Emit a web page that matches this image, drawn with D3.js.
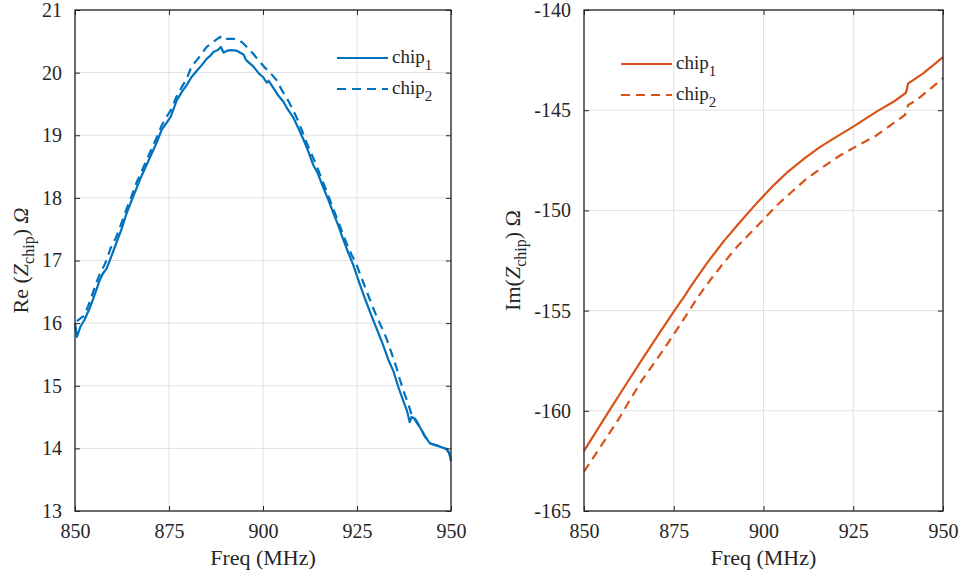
<!DOCTYPE html>
<html>
<head>
<meta charset="utf-8">
<script src="https://cdn.jsdelivr.net/npm/d3@7"></script>
<style>
  body { margin: 0; background: #fff; }
  svg text { font-family: "Liberation Serif", "Times New Roman", serif; fill: #262626; }
</style>
</head>
<body>
<div id="chart"></div>
<script>
// Real part (left panel)
var reFreq1 = [850, 850.5, 851.5, 852.5, 854, 855.5, 856.6, 857.5, 858.4, 860, 861, 862.5, 863.7, 865, 866.4, 867.7, 869, 870.5, 871.7, 873, 874.4, 875.5, 877, 878.5, 879.7, 881, 882.4, 883.7, 885, 886, 886.8, 888, 888.8, 889.5, 890.5, 891.5, 893, 894.8, 895.5, 897.4, 899, 900, 901, 901.5, 902.7, 904, 905.4, 906.5, 908, 909.5, 910.7, 912, 913.4, 914.5, 916, 917.3, 918.7, 920, 921.3, 922.7, 924, 925.3, 926.7, 928, 929.3, 930.7, 932, 933.3, 934.7, 936, 937.3, 938.3, 939, 939.5, 940.2, 941, 941.8, 943, 944.4, 946.5, 948.8, 949.5, 950];
var reChip1 = [16.00, 15.78, 15.95, 16.05, 16.25, 16.50, 16.69, 16.80, 16.87, 17.12, 17.28, 17.52, 17.75, 17.95, 18.16, 18.35, 18.52, 18.72, 18.88, 19.08, 19.20, 19.30, 19.55, 19.70, 19.80, 19.93, 20.03, 20.12, 20.22, 20.27, 20.33, 20.36, 20.41, 20.32, 20.35, 20.36, 20.35, 20.29, 20.20, 20.10, 19.98, 19.93, 19.84, 19.87, 19.76, 19.64, 19.54, 19.42, 19.29, 19.10, 18.94, 18.75, 18.52, 18.40, 18.17, 17.98, 17.76, 17.56, 17.34, 17.12, 16.93, 16.70, 16.46, 16.25, 16.05, 15.84, 15.64, 15.42, 15.23, 14.98, 14.76, 14.60, 14.42, 14.50, 14.48, 14.40, 14.33, 14.20, 14.08, 14.04, 13.99, 13.93, 13.80];
var reFreq2 = [850.5, 851.5, 852.5, 854, 855.5, 856.6, 858, 859.5, 861, 862.5, 863.7, 865, 866.4, 867.7, 869, 870.5, 871.7, 873, 874.4, 875.5, 877, 878.5, 879.7, 881, 882.4, 883.7, 885, 886.5, 888.6, 889.5, 890.5, 892, 893.4, 894.5, 895.7, 897.4, 899.2, 900.5, 901.9, 903.6, 905, 906.2, 907.5, 908.9, 910.2, 911.6, 912.9, 914.2, 915.5, 916.9, 918.2, 919.5, 920.9, 922.2, 923.5, 924.9, 926.2, 927.5, 928.9, 930.2, 931.5, 932.8, 934.2, 935.5, 936.4, 937.3, 938.2, 939, 939.8, 940.5, 941.2, 941.8, 943, 944.4, 946.5, 948.8, 949.5, 950];
var reChip2 = [16.03, 16.08, 16.12, 16.35, 16.62, 16.78, 16.95, 17.20, 17.38, 17.62, 17.82, 18.02, 18.25, 18.42, 18.60, 18.80, 18.96, 19.15, 19.30, 19.40, 19.62, 19.78, 19.90, 20.10, 20.20, 20.30, 20.41, 20.48, 20.57, 20.52, 20.54, 20.54, 20.53, 20.48, 20.41, 20.30, 20.17, 20.08, 20.00, 19.88, 19.72, 19.61, 19.46, 19.29, 19.10, 18.88, 18.70, 18.52, 18.32, 18.11, 17.90, 17.70, 17.48, 17.28, 17.10, 16.93, 16.72, 16.52, 16.30, 16.11, 15.94, 15.76, 15.52, 15.29, 15.10, 14.93, 14.78, 14.64, 14.48, 14.47, 14.40, 14.33, 14.20, 14.08, 14.04, 13.99, 13.93, 13.80];

// Imaginary part (right panel)
var imFreq1 = [850, 857, 862, 866.5, 871, 875, 877.9, 879.7, 884.3, 889, 893.6, 898.3, 902.8, 906.5, 911.6, 915.7, 920.4, 925, 931.5, 936.2, 939.7, 940.3, 944.5, 950];
var imChip1 = [-162.0, -160.0, -158.6, -157.35, -156.12, -155.05, -154.3, -153.8, -152.62, -151.52, -150.55, -149.6, -148.75, -148.12, -147.38, -146.84, -146.32, -145.82, -145.07, -144.58, -144.13, -143.66, -143.16, -142.35];
var imFreq2 = [850, 853.7, 859.7, 863, 866.2, 869.5, 872.7, 875.5, 878.8, 882, 885.7, 889, 892.7, 896.4, 900, 903.7, 907.9, 912, 916.7, 921.3, 925.9, 931.1, 936.2, 939.4, 940.3, 942.7, 950];
var imChip2 = [-163.04, -162.04, -160.4, -159.4, -158.46, -157.63, -156.8, -156.05, -155.14, -154.25, -153.35, -152.6, -151.8, -151.12, -150.45, -149.75, -149.07, -148.42, -147.82, -147.26, -146.8, -146.3, -145.65, -145.24, -144.74, -144.49, -143.4];

var xTicks = [850, 875, 900, 925, 950];
var reTicks = [13, 14, 15, 16, 17, 18, 19, 20, 21];
var imTicks = [-165, -160, -155, -150, -145, -140];
var seriesNames = ["1", "2"];

var width = 959, height = 578;
var svg = d3.select("#chart").append("svg")
    .attr("width", width)
    .attr("height", height);

// matlab prints a plain hyphen for negatives
var tickFmt = function(d) { return String(d); };

function zip(xs, ys) {
  return xs.map(function(x, i) { return [x, ys[i]]; });
}

function panel(opts) {
  var x = d3.scaleLinear().domain([850, 950]).range([opts.left, opts.right]);
  var y = d3.scaleLinear().domain(opts.yDomain).range([511, 10]);
  var g = svg.append("g");

  // grid
  g.selectAll(".vgrid").data(xTicks).enter().append("line")
      .attr("x1", function(d) { return x(d); }).attr("x2", function(d) { return x(d); })
      .attr("y1", y.range()[0]).attr("y2", y.range()[1])
      .style("stroke", "#e1e1e1").style("stroke-width", 1);
  g.selectAll(".hgrid").data(opts.yTicks).enter().append("line")
      .attr("x1", opts.left).attr("x2", opts.right)
      .attr("y1", function(d) { return y(d); }).attr("y2", function(d) { return y(d); })
      .style("stroke", "#e1e1e1").style("stroke-width", 1);

  // lines
  var line = d3.line().x(function(d) { return x(d[0]); }).y(function(d) { return y(d[1]); });
  g.append("path").datum(zip(opts.f1, opts.v1))
      .attr("d", line)
      .style("fill", "none").style("stroke", opts.color).style("stroke-width", 2.2)
      .style("stroke-linejoin", "round");
  g.append("path").datum(zip(opts.f2, opts.v2))
      .attr("d", line)
      .style("fill", "none").style("stroke", opts.color).style("stroke-width", 2.2)
      .style("stroke-dasharray", "9,6");

  // axes (inward ticks like matlab)
  var tl = 5;
  g.append("g").attr("transform", "translate(0," + y.range()[0] + ")")
      .call(d3.axisBottom(x).tickValues(xTicks).tickSizeInner(-tl).tickSizeOuter(0).tickPadding(13).tickFormat(tickFmt))
      .call(styleAxis);
  g.append("g").attr("transform", "translate(0," + y.range()[1] + ")")
      .call(d3.axisTop(x).tickValues(xTicks).tickSizeInner(-tl).tickSizeOuter(0).tickFormat(""))
      .call(styleAxis);
  g.append("g").attr("transform", "translate(" + opts.left + ",0)")
      .call(d3.axisLeft(y).tickValues(opts.yTicks).tickSizeInner(-tl).tickSizeOuter(0).tickPadding(13).tickFormat(tickFmt))
      .call(styleAxis);
  g.append("g").attr("transform", "translate(" + opts.right + ",0)")
      .call(d3.axisRight(y).tickValues(opts.yTicks).tickSizeInner(-tl).tickSizeOuter(0).tickFormat(""))
      .call(styleAxis);

  // x label
  g.append("text")
      .attr("x", (opts.left + opts.right) / 2).attr("y", 565)
      .attr("text-anchor", "middle")
      .style("font-size", "22px")
      .text("Freq (MHz)");

  // y label
  var yl = g.append("text")
      .attr("transform", "translate(" + opts.labelX + "," + ((y.range()[0] + y.range()[1]) / 2) + ") rotate(-90)")
      .attr("text-anchor", "middle")
      .style("font-size", "22px");
  yl.append("tspan").text(opts.prefix + "(");
  yl.append("tspan").style("font-style", "italic").text("Z");
  yl.append("tspan").attr("dy", 6).style("font-size", "16px").text("chip");
  yl.append("tspan").attr("dy", -6).text(") ");
  yl.append("tspan").style("font-style", opts.omegaItalic ? "italic" : "normal").text("Ω");

  // legend
  var leg = g.append("g");
  seriesNames.forEach(function(s, i) {
    var ly = opts.legY[i];
    leg.append("line")
        .attr("x1", opts.legX).attr("x2", opts.legX + 51)
        .attr("y1", ly).attr("y2", ly)
        .style("stroke", opts.color).style("stroke-width", 2.2)
        .style("stroke-dasharray", i === 0 ? null : "9,6");
    var t = leg.append("text")
        .attr("x", opts.legX + 55).attr("y", ly + 5)
        .style("font-size", "19px");
    t.append("tspan").text("chip");
    t.append("tspan").attr("dy", 7).style("font-size", "15px").text(s);
  });
}

function styleAxis(sel) {
  sel.select(".domain").remove();
  sel.selectAll(".tick line").style("stroke", "#262626").style("stroke-width", 1);
  sel.selectAll(".tick text").style("font-size", "20px").style("font-family", "Liberation Serif, serif").style("fill", "#262626");
}

panel({left: 75, right: 451, yDomain: [13, 21], yTicks: reTicks, color: "#0072BD",
       f1: reFreq1, v1: reChip1, f2: reFreq2, v2: reChip2,
       prefix: "Re ", labelX: 28, omegaItalic: true, legX: 337, legY: [58, 89]});
panel({left: 584, right: 943, yDomain: [-165, -140], yTicks: imTicks, color: "#D95319",
       f1: imFreq1, v1: imChip1, f2: imFreq2, v2: imChip2,
       prefix: "Im", labelX: 520, omegaItalic: false, legX: 621, legY: [64, 95]});

// axes boxes
svg.append("rect").attr("x", 75).attr("y", 10).attr("width", 376).attr("height", 501)
    .style("fill", "none").style("stroke", "#262626").style("stroke-width", 1.3);
svg.append("rect").attr("x", 584).attr("y", 10).attr("width", 359).attr("height", 501)
    .style("fill", "none").style("stroke", "#262626").style("stroke-width", 1.3);
</script>
</body>
</html>
